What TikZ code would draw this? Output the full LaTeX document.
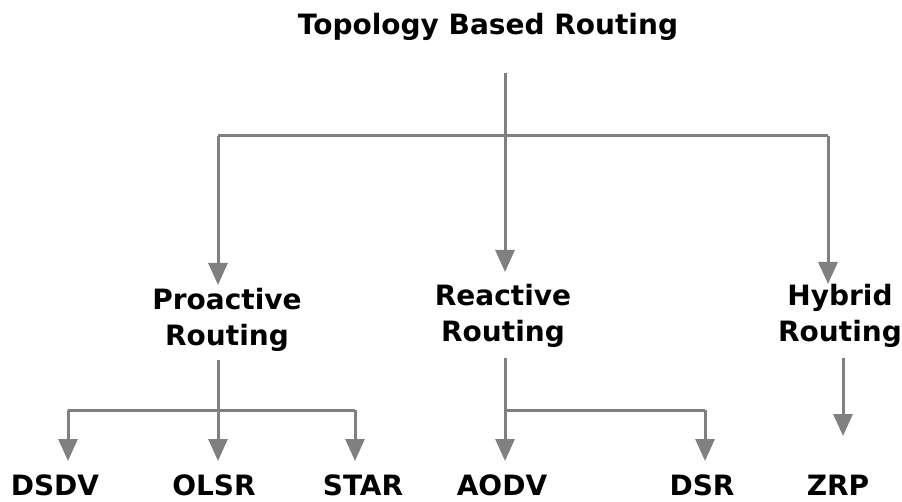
\documentclass[tikz,border=0pt]{standalone}
\usepackage{fontspec}
\setmainfont{DejaVu Sans}
\usetikzlibrary{arrows.meta}
\definecolor{linegray}{RGB}{128,128,128}
\tikzset{
  lbl/.style={font=\fontsize{28}{36}\selectfont\bfseries, text=black, align=center, inner sep=0pt},
  conn/.style={draw=linegray, line width=3pt},
  arr/.style={conn, -{Triangle[width=19pt,length=22pt]}, fill=linegray},
}
\begin{document}
\begin{tikzpicture}[x=1pt,y=-1pt]
\useasboundingbox[fill=white] (0,0) rectangle (902,502);
% nodes
\node[lbl] (root) at (488,27) {Topology Based Routing};
\node[lbl] (pro) at (227,320) {Proactive\\Routing};
\node[lbl] (rea) at (503,316) {Reactive\\Routing};
\node[lbl] (hyb) at (840,316) {Hybrid\\Routing};
\node[lbl] (dsdv) at (55,485) {DSDV};
\node[lbl] (olsr) at (214,485) {OLSR};
\node[lbl] (star) at (363,485) {STAR};
\node[lbl] (aodv) at (502,485) {AODV};
\node[lbl] (dsr) at (702,485) {DSR};
\node[lbl] (zrp) at (838,485) {ZRP};
% junction coordinates
\coordinate (rtop) at (505,73);
\coordinate (rbar) at (505,136);
\coordinate (rbot) at (505,148);
\coordinate (pbarL) at (218,136);
\coordinate (pbarR) at (828,136);
\coordinate (ptip) at (218,285);
\coordinate (rtip) at (505,272);
\coordinate (htip) at (828,284);
\coordinate (ptop) at (218,360);
\coordinate (pbar) at (218,410);
\coordinate (pL) at (68,410);
\coordinate (pR) at (355,410);
\coordinate (rtop2) at (505,358);
\coordinate (rbar2) at (505,410);
\coordinate (rR) at (705,410);
\coordinate (htop2) at (843,358);
% top level
\draw[conn] (rtop) -- (rbot);
\draw[conn] (pbarL) -- (pbarR);
\draw[arr] (pbarL) -- (ptip);
\draw[arr] (rbar) -- (rtip);
\draw[arr] (pbarR) -- (htip);
% proactive
\draw[conn] (pL) -- (pR);
\draw[arr] (ptop) -- (218,461);
\draw[arr] (pL) -- (68,461);
\draw[arr] (pR) -- (355,461);
% reactive
\draw[conn] (rbar2) -- (rR);
\draw[arr] (rtop2) -- (505,461);
\draw[arr] (rR) -- (705,461);
% hybrid
\draw[arr] (htop2) -- (843,436);
\end{tikzpicture}
\end{document}
